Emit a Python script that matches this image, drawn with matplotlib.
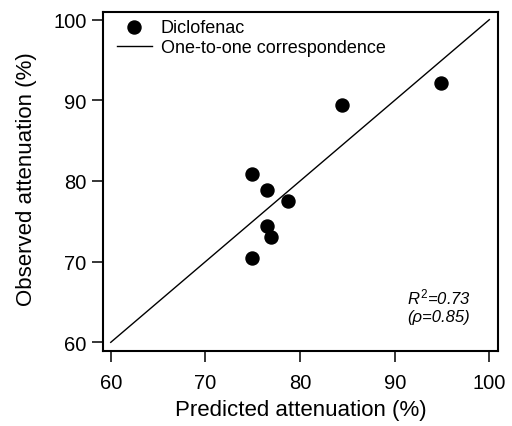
import matplotlib
matplotlib.use("Agg")
import matplotlib.pyplot as plt

predicted = [74.9, 76.5, 78.7, 76.5, 76.9, 74.9, 84.4, 94.9]
observed = [80.9, 78.9, 77.5, 74.4, 73.1, 70.4, 89.4, 92.2]
line_x = [60, 100]
ticks = [60, 70, 80, 90, 100]

plt.rcParams['font.family'] = ['Liberation Sans', 'DejaVu Sans']
plt.rcParams['mathtext.fontset'] = 'custom'
plt.rcParams['mathtext.it'] = 'Liberation Sans:italic'
plt.rcParams['mathtext.rm'] = 'Liberation Sans'

fig = plt.figure(figsize=(5.12, 4.27), dpi=100)
ax = fig.add_axes([0.2006, 0.1763, 0.7727, 0.794])

ax.scatter(predicted, observed, s=88, color='black', zorder=3, label='Diclofenac')
ax.plot(line_x, line_x, color='black', lw=1, label='One-to-one correspondence')

ax.set_xlim(59.15, 100.95)
ax.set_ylim(58.96, 100.99)
ax.set_xticks(ticks)
ax.set_yticks(ticks)
ax.tick_params(direction='out', length=8, width=1.1, labelsize=14.5)
ax.tick_params(axis='x', pad=7.8)
ax.tick_params(axis='y', pad=3.6)
for s in ax.spines.values():
    s.set_linewidth(1.5)

ax.set_xlabel('Predicted attenuation (%)', fontsize=16)
ax.set_ylabel('Observed attenuation (%)', fontsize=16)
ax.xaxis.set_label_coords(0.5, -0.142)
ax.yaxis.set_label_coords(-0.166, 0.51)

ax.legend(loc='upper left', frameon=False, fontsize=13, handlelength=1.94,
          handletextpad=0.5, borderaxespad=0, borderpad=0, labelspacing=0.21,
          scatterpoints=1, bbox_to_anchor=(0.0354, 0.9797))

ax.text(94.67, 65.7, r'$R^2$=0.73', fontsize=12, style='italic', ha='center', va='center')
ax.text(94.67, 63.16, '(ρ=0.85)', fontsize=12, style='italic', ha='center', va='center')

fig.savefig('out.png', dpi=100)
